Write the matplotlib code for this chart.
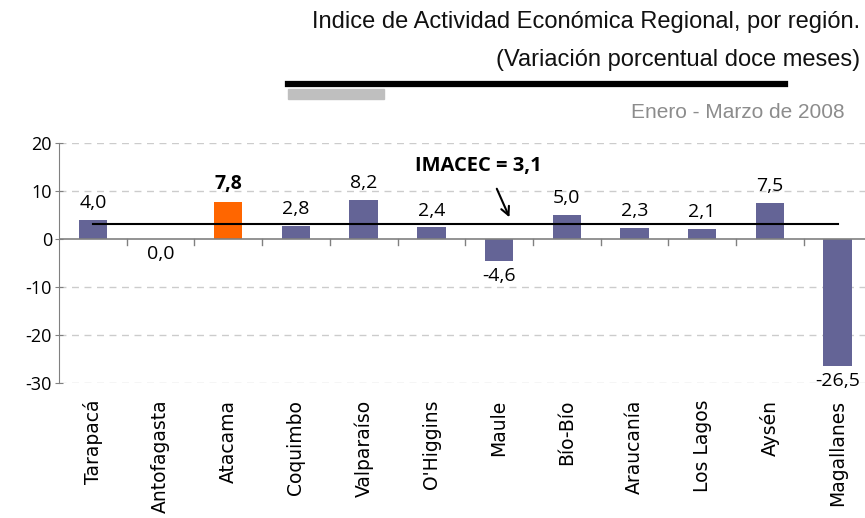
import matplotlib
matplotlib.use("Agg")
import matplotlib.pyplot as plt
from matplotlib.lines import Line2D
from matplotlib.patches import Rectangle

regiones = ["Tarapacá", "Antofagasta", "Atacama", "Coquimbo", "Valparaíso", "O'Higgins",
            "Maule", "Bío-Bío", "Araucanía", "Los Lagos", "Aysén", "Magallanes"]
variacion = [4.0, 0.0, 7.8, 2.8, 8.2, 2.4, -4.6, 5.0, 2.3, 2.1, 7.5, -26.5]
imacec = 3.1
destacada = "Atacama"

azul = "#646496"
naranja = "#ff6600"

plt.rcParams['font.family'] = ['Open Sans', 'DejaVu Sans']

W, H = 865, 518
fig = plt.figure(figsize=(W / 100, H / 100), dpi=100)
ax = fig.add_axes([59 / W, (H - 383) / H, (W - 59) / W, (383 - 143) / H])

x = list(range(len(regiones)))
colores = [naranja if r == destacada else azul for r in regiones]
ax.bar(x, variacion, width=0.42, color=colores, zorder=3)

ax.set_ylim(-30, 20)
ax.set_xlim(-0.5, -0.5 + (W - 59) / 67.7)
ax.set_yticks([-30, -20, -10, 0, 10, 20])
ax.set_yticklabels(["-30", "-20", "-10", "0", "10", "20"], fontsize=13)
for v in [-30, -20, -10, 10, 20]:
    ax.axhline(v, color="#cccccc", lw=1, ls=(0, (5, 4)), zorder=1)
ax.axhline(0, color="#808080", lw=1.2, zorder=4)

for s in ["top", "right", "bottom"]:
    ax.spines[s].set_visible(False)
ax.spines["left"].set_color("#808080")
ax.tick_params(axis="y", direction="inout", length=6, color="#808080", pad=2)
ax.set_xticks([])

# marcas entre categorias sobre la linea cero
for i in range(1, len(regiones)):
    ax.plot([i - 0.5, i - 0.5], [0, -1.3], color="#808080", lw=1, zorder=4, clip_on=False)

# etiquetas de categoria
for i, r in enumerate(regiones):
    ax.text(i, -33.5, r, rotation=90, ha="center", va="top", fontsize=13.5,
            family=['DejaVu Sans'])

# etiquetas de valor
for i, (r, v) in enumerate(zip(regiones, variacion)):
    txt = f"{v:.1f}".replace(".", ",")
    peso = "bold" if r == destacada else "normal"
    if v > 0:
        ax.text(i, v + 1.6, txt, ha="center", va="bottom", fontsize=14, fontweight=peso)
    else:
        ax.text(i, v - 1.3, txt, ha="center", va="top", fontsize=14, fontweight=peso)

# linea IMACEC
ax.plot([0, len(regiones) - 1], [imacec, imacec], color="black", lw=1.5, zorder=5)
ax.text(5.7, 15.2, "IMACEC = 3,1", ha="center", va="center", fontsize=14.5, fontweight="bold")
ax.annotate("", xy=(6.17, 4.0), xytext=(5.95, 11.0),
            arrowprops=dict(arrowstyle="->", color="black", lw=1.5, mutation_scale=15))

# titulo
titulo = ['Liberation Sans', 'DejaVu Sans']
fig.text(860 / W, 1 - 22 / H, "Indice de Actividad Económica Regional, por región.",
         ha="right", va="center", fontsize=17, family=titulo, color="#111111")
fig.text(860 / W, 1 - 60 / H, "(Variación porcentual doce meses)",
         ha="right", va="center", fontsize=17, family=titulo, color="#111111")
fig.add_artist(Line2D([288 / W, 785 / W], [1 - 84 / H, 1 - 84 / H], color="black", lw=4.5))
fig.add_artist(Rectangle((288 / W, 1 - 99 / H), 96 / W, 10 / H, color="#bfbfbf",
                         transform=fig.transFigure))
fig.text(845 / W, 1 - 112 / H, "Enero - Marzo de 2008", ha="right", va="center",
         fontsize=15, color="#8c8c8c", family=titulo)

fig.savefig("out.png", dpi=100)
